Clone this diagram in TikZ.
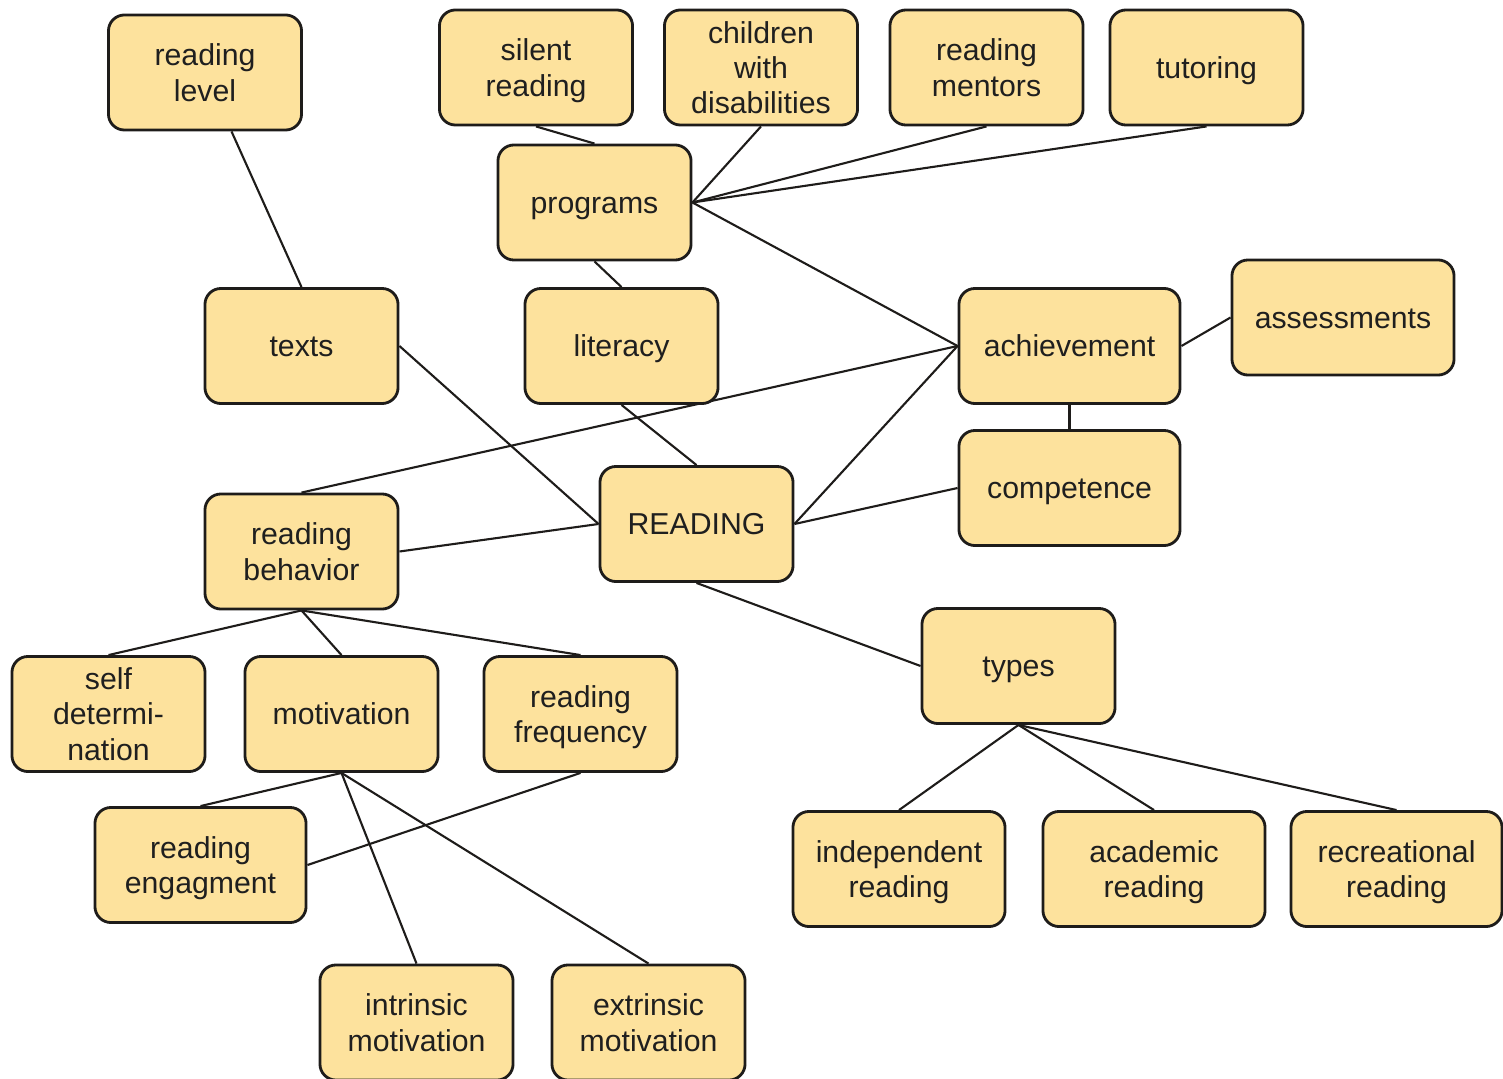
\documentclass[tikz,border=0pt]{standalone}
\usepackage{fontspec}
\setmainfont{Liberation Sans}
\usetikzlibrary{backgrounds}

\begin{document}
\begin{tikzpicture}[x=0.01cm, y=-0.01cm,
  concept/.style={draw=boxline, fill=boxfill, line width=0.8pt,
    rounded corners=0.16cm, minimum width=#1, minimum height=1.15cm,
    align=center, inner sep=1pt, text=black!88, text depth=0pt,
    font=\fontsize{8.6}{10}\selectfont},
  concept/.default=1.93cm,
  oneline/.style={text height=6.2pt},
  link/.style={draw=boxline, line width=0.6pt}]
\definecolor{boxfill}{RGB}{253,226,157}
\definecolor{boxline}{RGB}{30,28,26}
\useasboundingbox (0,0) rectangle (1503,1079);
% ---- top row ----
\node[concept] (rlevel) at (205,72.5) {reading\\level};
\node[concept] (silent) at (536,67.5) {silent\\reading};
\node[concept] (children) at (761,67.5) {children\\with\\disabilities};
\node[concept] (mentors) at (986.5,67.5) {reading\\mentors};
\node[concept, oneline] (tutoring) at (1206.5,67.5) {tutoring};
\node[concept, oneline] (programs) at (594.5,202.5) {programs};
% ---- middle ----
\node[concept, oneline] (texts) at (301.5,346) {texts};
\node[concept, oneline] (literacy) at (621.5,346) {literacy};
\node[concept=2.21cm, oneline] (achieve) at (1069.5,346) {achievement};
\node[concept=2.22cm, oneline] (assess) at (1343,317.5) {assessments};
\node[concept=2.21cm, oneline] (compet) at (1069.5,488) {competence};
\node[concept, oneline] (reading) at (696.5,524) {READING};
\node[concept] (rbehav) at (301.5,551.5) {reading\\behavior};
% ---- lower left ----
\node[concept] (selfdet) at (108.5,714) {self\\determi-\\nation};
\node[concept, oneline] (motiv) at (341.5,714) {motivation};
\node[concept] (rfreq) at (580.5,714) {reading\\frequency};
\node[concept=2.11cm] (rengage) at (200.5,865) {reading\\engagment};
\node[concept] (intrinsic) at (416.5,1022.5) {intrinsic\\motivation};
\node[concept] (extrinsic) at (648.5,1022.5) {extrinsic\\motivation};
% ---- lower right ----
\node[concept, oneline] (types) at (1018.5,666) {types};
\node[concept=2.12cm] (indep) at (899,869) {independent\\reading};
\node[concept=2.22cm] (academic) at (1154,869) {academic\\reading};
\node[concept=2.11cm] (recreat) at (1396.5,869) {recreational\\reading};
% ---- links ----
\begin{scope}[on background layer]
\draw[link] (rlevel) -- (texts.north);
\draw[link] (silent.south) -- (programs.north);
\foreach \n in {children,mentors,tutoring}
  \draw[link] (\n.south) -- (programs.east);
\draw[link] (programs.east) -- (achieve.west);
\draw[link] (programs.south) -- (literacy.north);
\draw[link] (literacy.south) -- (reading.north);
\draw[link] (texts.east) -- (reading.west);
\draw[link] (achieve.west) -- (rbehav.north);
\draw[link] (achieve.west) -- (reading.east);
\draw[link] (assess.west) -- (achieve.east);
\draw[link] (achieve.south) -- (compet.north);
\draw[link] (compet.west) -- (reading.east);
\draw[link] (reading.west) -- (rbehav.east);
\draw[link] (reading.south) -- (types.west);
\foreach \n in {selfdet,motiv,rfreq}
  \draw[link] (rbehav.south) -- (\n.north);
\foreach \n in {rengage,intrinsic,extrinsic}
  \draw[link] (motiv.south) -- (\n.north);
\draw[link] (rfreq.south) -- (rengage.east);
\foreach \n in {indep,academic,recreat}
  \draw[link] (types.south) -- (\n.north);
\end{scope}
\end{tikzpicture}
\end{document}
